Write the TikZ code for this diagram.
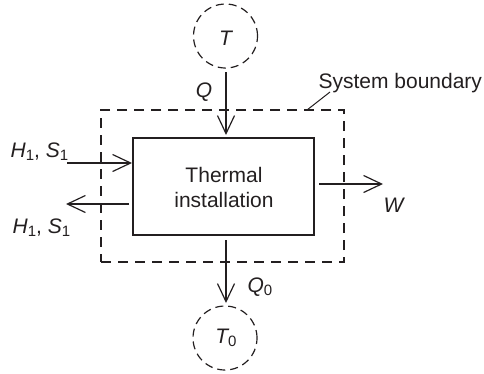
\documentclass[tikz,border=0pt]{standalone}
\usepackage{fontspec}
\setmainfont{Liberation Sans}
\usetikzlibrary{arrows.meta}
\definecolor{ink}{RGB}{35,31,32}
\newcommand\sbsc[1]{\raisebox{-0.3ex}{\fontsize{15}{15}\selectfont #1}}
\begin{document}
\begin{tikzpicture}[x=1pt,y=-1pt,color=ink,
  every node/.style={font=\fontsize{21}{25}\selectfont,text=ink},
  line width=1.2pt,
  flow/.style={-{Straight Barb[length=18pt,width=17pt,line width=1.2pt]}},
  res/.style={circle,draw,dash pattern=on 8pt off 5pt,minimum size=64pt,inner sep=0pt},
  bound/.style={draw,dash pattern=on 10pt off 7pt,inner sep=0pt},
  inst/.style={draw,inner sep=0pt,align=center}]
\useasboundingbox (0,0) rectangle (484,373);
\node[bound,minimum width=243pt,minimum height=152pt] (sb) at (222.5,186) {};
\node[inst,minimum width=181pt,minimum height=97pt] (box) at (223.5,186.5) {};
\node[anchor=base] (thermal) at (224,182) {Thermal};
\node[anchor=base] (instl) at (224,207) {installation};
\node[res] (T) at (225.5,36) {};
\node[anchor=base] (Tl) at (225.5,45) {\itshape T};
\node[res] (T0) at (225,338) {};
\node[anchor=base] (T0l) at (226,343) {{\itshape T}\sbsc{0}};
\coordinate (qs) at (226,72);
\coordinate (qe) at (226,135);
\draw[flow] (qs) -- (qe);
\node[anchor=base] (Ql) at (204,97) {\itshape Q};
\coordinate (q0s) at (226,240);
\coordinate (q0e) at (226,303);
\draw[flow] (q0s) -- (q0e);
\node[anchor=base west,inner sep=0pt] (Q0l) at (247,292) {{\itshape Q}\sbsc{0}};
\coordinate (hin) at (67,163);
\coordinate (hine) at (132,163);
\draw[flow] (hin) -- (hine);
\node[anchor=base west,inner sep=0pt] (Hin) at (10,157) {{\itshape H}\sbsc{1}, {\itshape S}\sbsc{1}};
\coordinate (hos) at (129,204);
\coordinate (hoe) at (66,204);
\draw[flow] (hos) -- (hoe);
\node[anchor=base west,inner sep=0pt] (Hout) at (12,233) {{\itshape H}\sbsc{1}, {\itshape S}\sbsc{1}};
\coordinate (ws) at (319,184);
\coordinate (we) at (383,184);
\draw[flow] (ws) -- (we);
\node[anchor=base west,inner sep=0pt] (Wl) at (383,212) {\itshape W};
\node[anchor=base west,inner sep=0pt] (sbl) at (318,88) {System boundary};
\coordinate (ls) at (307,110);
\coordinate (le) at (330,92);
\draw[line width=1pt] (ls) -- (le);
\end{tikzpicture}
\end{document}
